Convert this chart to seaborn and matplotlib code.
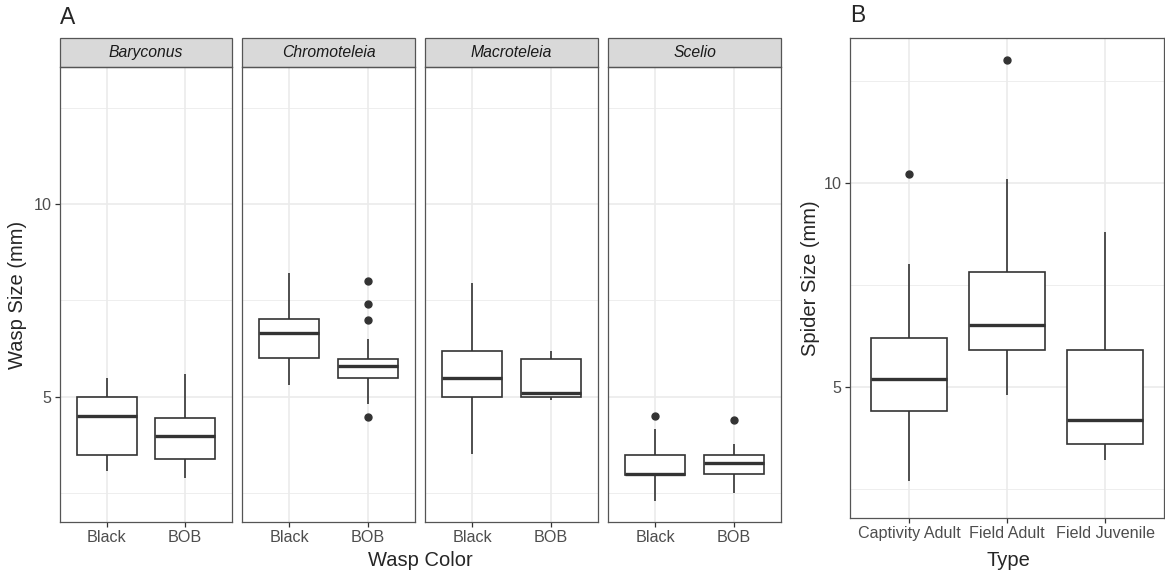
"""Wasp and spider size boxplots (panels A and B)."""

import matplotlib
matplotlib.use("Agg")
import matplotlib.pyplot as plt
from matplotlib.patches import Rectangle
from matplotlib.ticker import FixedLocator
import seaborn as sns
import pandas as pd

# ---- data ----
GENERA = ["Baryconus", "Chromoteleia", "Macroteleia", "Scelio"]
WASP_COLORS = ["Black", "BOB"]

baryconus_black = [3.08, 3.3, 3.50, 4.0, 4.51, 4.8, 5.00, 5.2, 5.49]
baryconus_bob = [2.90, 3.1, 3.39, 3.7, 3.99, 4.2, 4.46, 5.0, 5.60]
chromoteleia_black = [5.31, 5.7, 6.01, 6.4, 6.66, 6.8, 7.02, 7.6, 8.21]
chromoteleia_bob = [4.48, 4.82, 5.2, 5.4, 5.49, 5.6, 5.7, 5.75, 5.80,
                    5.85, 5.9, 5.95, 5.98, 6.5, 7.0, 7.41, 8.0]
macroteleia_black = [3.52, 4.5, 5.00, 5.3, 5.49, 5.8, 6.19, 7.0, 7.95]
macroteleia_bob = [4.92, 4.96, 5.00, 5.05, 5.10, 5.5, 5.98, 6.1, 6.19]
scelio_black = [2.31, 2.7, 2.98, 2.99, 3.00, 3.2, 3.50, 4.17, 4.51]
scelio_bob = [2.51, 2.8, 3.00, 3.1, 3.29, 3.4, 3.50, 3.78, 4.40]

SPIDER_TYPES = ["Captivity Adult", "Field Adult", "Field Juvenile"]
captivity_adult = [2.70, 3.8, 4.41, 4.9, 5.20, 5.7, 6.20, 8.01, 10.22]
field_adult = [4.80, 5.5, 5.91, 6.2, 6.52, 7.1, 7.82, 10.10, 13.01]
field_juvenile = [3.21, 3.4, 3.60, 3.9, 4.19, 5.0, 5.91, 7.2, 8.80]

wasp_groups = {
    ("Baryconus", "Black"): baryconus_black,
    ("Baryconus", "BOB"): baryconus_bob,
    ("Chromoteleia", "Black"): chromoteleia_black,
    ("Chromoteleia", "BOB"): chromoteleia_bob,
    ("Macroteleia", "Black"): macroteleia_black,
    ("Macroteleia", "BOB"): macroteleia_bob,
    ("Scelio", "Black"): scelio_black,
    ("Scelio", "BOB"): scelio_bob,
}
wasps = pd.DataFrame(
    [(g, c, v) for (g, c), vals in wasp_groups.items() for v in vals],
    columns=["genus", "color", "size"],
)
spiders = pd.DataFrame(
    [(t, v) for t, vals in zip(SPIDER_TYPES, [captivity_adult, field_adult, field_juvenile])
     for v in vals],
    columns=["type", "size"],
)

# ---- style ----
sns.set_theme(style="white")
plt.rcParams["font.family"] = ["Liberation Sans", "DejaVu Sans"]

W, H = 1165, 574
fig = plt.figure(figsize=(W / 100, H / 100), dpi=100)


def px_axes(x0, y0, x1, y1):
    """Add axes given pixel box (top-left origin)."""
    return fig.add_axes([x0 / W, 1 - y1 / H, (x1 - x0) / W, (y1 - y0) / H])


BOX_KW = dict(
    color="white",
    linecolor="#333333",
    linewidth=1.2,
    showcaps=False,
    fliersize=5,
    saturation=1,
    medianprops={"linewidth": 2.4, "color": "#333333"},
    flierprops={"marker": "o", "markerfacecolor": "#333333",
                "markeredgecolor": "#333333"},
)


def style_panel(ax, ylim, n_cat):
    ax.set_ylim(*ylim)
    ax.set_xlim(-0.6, n_cat - 0.4)
    ax.yaxis.set_major_locator(FixedLocator([5, 10]))
    ax.yaxis.set_minor_locator(FixedLocator([2.5, 7.5, 12.5]))
    ax.grid(True, which="major", color="#ebebeb", linewidth=1.2)
    ax.grid(True, which="minor", axis="y", color="#ebebeb", linewidth=0.6)
    ax.set_axisbelow(True)
    for s in ax.spines.values():
        s.set_color("#555555")
        s.set_linewidth(0.9)
    ax.tick_params(axis="both", which="major", length=3.5, width=0.9,
                   color="#333333", labelcolor="#4d4d4d", labelsize=11.6, pad=2.5,
                   left=True, bottom=True)
    ax.tick_params(which="minor", length=0)
    ax.set_xlabel("")
    ax.set_ylabel("")


# ---- panel A ----
panel_x = [(60, 232), (242, 415), (425, 598), (608, 781)]
top_a, bot_a = 67, 522
strip_h = 29
ylim_a = (1.76, 13.55)

for i, genus in enumerate(GENERA):
    x0, x1 = panel_x[i]
    ax = px_axes(x0, top_a, x1, bot_a)
    sub = wasps[wasps["genus"] == genus]
    sns.boxplot(data=sub, x="color", y="size", order=WASP_COLORS, ax=ax,
                width=0.76, **BOX_KW)
    style_panel(ax, ylim_a, len(WASP_COLORS))
    if i > 0:
        ax.tick_params(axis="y", labelleft=False, left=False)
    ax.add_patch(Rectangle((0, 1), 1, strip_h / (bot_a - top_a),
                           transform=ax.transAxes, clip_on=False,
                           facecolor="#d9d9d9", edgecolor="#555555", linewidth=0.9))
    ax.text(0.5, 1 + strip_h / 2 / (bot_a - top_a), genus, transform=ax.transAxes,
            ha="center", va="center", fontsize=11.3, style="italic", color="#1a1a1a")

fig.text(60 / W, 1 - 17 / H, "A", ha="left", va="center", fontsize=16.5)
fig.text(420 / W, 1 - 561 / H, "Wasp Color", ha="center", va="center", fontsize=14.5)
fig.text(18 / W, 1 - 295 / H, "Wasp Size (mm)", ha="center", va="center",
         rotation=90, fontsize=14.5)

# ---- panel B ----
ax_b = px_axes(850, 38, 1164, 518)
sns.boxplot(data=spiders, x="type", y="size", order=SPIDER_TYPES, ax=ax_b,
            width=0.78, **BOX_KW)
style_panel(ax_b, (1.79, 13.55), len(SPIDER_TYPES))

fig.text(850 / W, 1 - 16 / H, "B", ha="left", va="center", fontsize=16.5)
fig.text(1008 / W, 1 - 561 / H, "Type", ha="center", va="center", fontsize=14.5)
fig.text(811 / W, 1 - 278 / H, "Spider Size (mm)", ha="center", va="center",
         rotation=90, fontsize=14.5)

fig.savefig("out.png", dpi=100, facecolor="white")
